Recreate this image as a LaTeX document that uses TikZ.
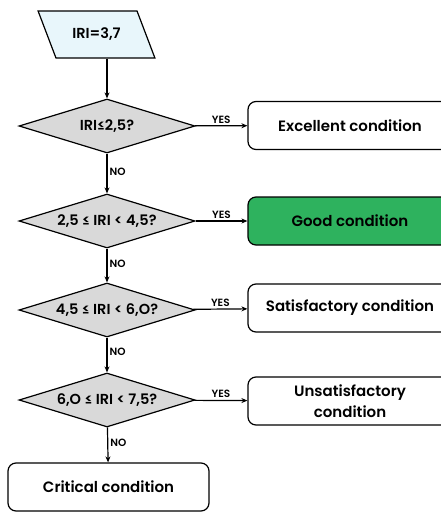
\documentclass[tikz,border=0pt]{standalone}
\usepackage{fontspec}
\setmainfont{Poppins}[BoldFont={Poppins SemiBold}]
\usepackage{tikz}
\usetikzlibrary{arrows.meta, positioning, shapes.geometric}
\definecolor{inputblue}{HTML}{E8F6FB}
\definecolor{decgray}{HTML}{D9D9D9}
\definecolor{goodgreen}{HTML}{2EB25E}

\begin{document}
\begin{tikzpicture}[x=1pt, y=-1pt,
        decision/.style={diamond, draw, line width=1.2pt, fill=decgray, inner sep=0pt, minimum width=176pt, minimum height=54pt},
        dtext/.style={font=\fontsize{14.5}{16}\selectfont\bfseries},
        result/.style={rectangle, draw, line width=1.2pt, rounded corners=8pt, minimum width=204pt, minimum height=48pt, align=center, font=\fontsize{15}{21}\selectfont\bfseries},
        arr/.style={-{Stealth[length=6pt, width=5pt]}, line width=1.2pt},
        lbl/.style={font=\fontsize{10.5}{11}\selectfont\bfseries, inner sep=2pt},
    ]
        \useasboundingbox (0,0) rectangle (441,512);

        % Input value
        \node[trapezium, trapezium left angle=122, trapezium right angle=58, trapezium stretches=true, draw, line width=1.2pt, fill=inputblue, minimum width=117pt, minimum height=47pt, font=\fontsize{14.5}{16}\selectfont\bfseries] (input) at (96.5, 34.5) {IRI=3,7};

        % Decisions (text set as centre labels so the diamonds keep one size)
        \node[decision, label={[dtext]center:IRI≤2,5?}] (dec1) at (107, 126) {};
        \node[decision, label={[dtext]center:2,5 ≤ IRI < 4,5?}] (dec2) at (107, 221) {};
        \node[decision, label={[dtext]center:4,5 ≤ IRI < 6,O?}] (dec3) at (107, 310) {};
        \node[decision, label={[dtext]center:6,O ≤ IRI < 7,5?}] (dec4) at (107, 400) {};

        % Outcomes
        \node[result] (excellent) at (350, 125.5) {Excellent condition};
        \node[result, fill=goodgreen] (good) at (350, 221) {Good condition};
        \node[result] (satisf) at (350, 308) {Satisfactory condition};
        \node[result] (unsatisf) at (350, 401) {Unsatisfactory\\condition};
        \node[result, minimum width=201pt] (critical) at (108.5, 487) {Critical condition};

        % Arrows
        \draw[arr] (input.south -| dec1.north) -- (dec1.north);
        \draw[arr] (dec1) -- node[lbl, above] {YES} (excellent);
        \draw[arr] (dec2) -- node[lbl, above] {YES} (good);
        \draw[arr] (dec3) -- node[lbl, above] {YES} (satisf);
        \draw[arr] (dec4) -- node[lbl, above] {YES} (unsatisf);
        \draw[arr] (dec1) -- node[lbl, right, pos=0.45] {NO} (dec2);
        \draw[arr] (dec2) -- node[lbl, right, pos=0.45] {NO} (dec3);
        \draw[arr] (dec3) -- node[lbl, right, pos=0.4] {NO} (dec4);
        \draw[arr] (dec4) -- node[lbl, right, pos=0.45] {NO} (critical);
    \end{tikzpicture}
\end{document}
